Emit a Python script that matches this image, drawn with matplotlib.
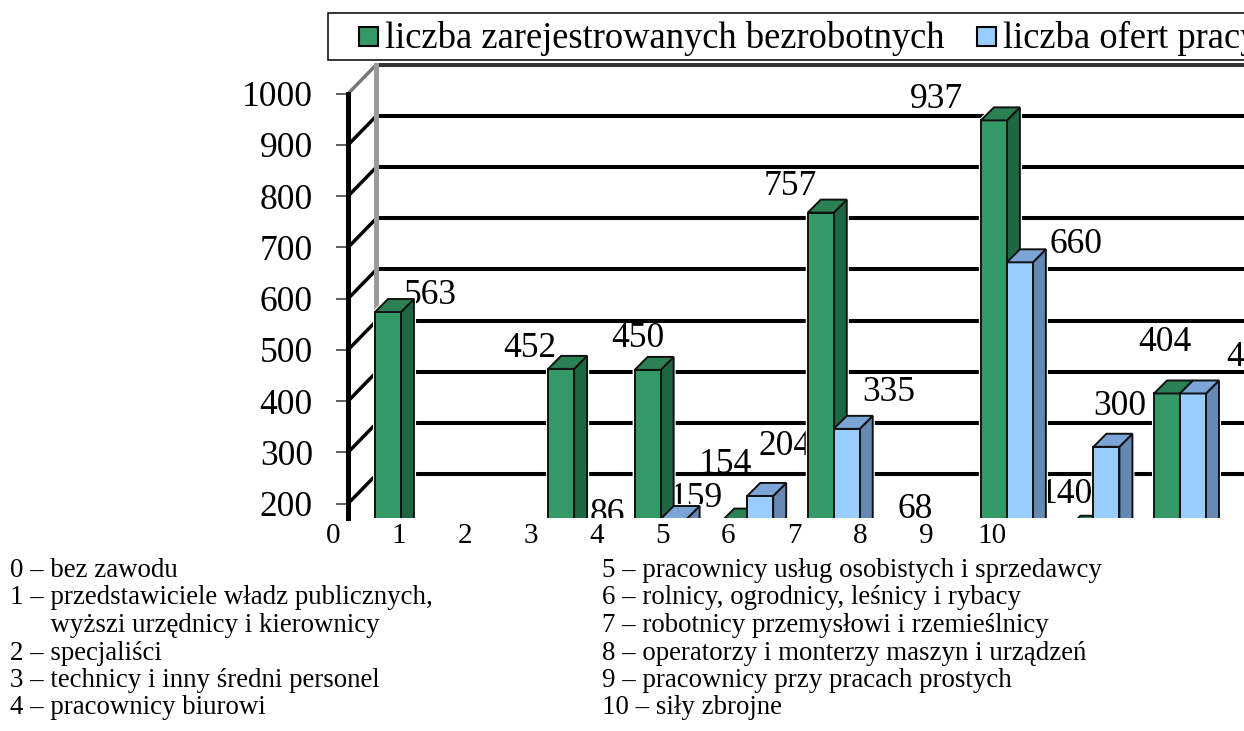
import numpy as np
import matplotlib.pyplot as plt
from matplotlib.patches import Polygon, Rectangle

plt.rcParams['font.family'] = ['Liberation Serif', 'DejaVu Serif']

# Dane (grupy zawodow 0-9, grupa 10 poza kadrem)
bezrobotni = [563, np.nan, 452, 450, 154, 757, 68, 937, 140, 404]
oferty = [np.nan, np.nan, 86, 159, 204, 335, np.nan, 660, 300, 404]
wartosci_osi_y = [200, 300, 400, 500, 600, 700, 800, 900, 1000]
etykiety_osi_x = ['0', '1', '2', '3', '4', '5', '6', '7', '8', '9', '10']
seria_1 = 'liczba zarejestrowanych bezrobotnych'
seria_2 = 'liczba ofert pracy'
opisy_lewe = ['0 – bez zawodu',
              '1 – przedstawiciele władz publicznych,',
              '      wyższi urzędnicy i kierownicy',
              '2 – specjaliści',
              '3 – technicy i inny średni personel',
              '4 – pracownicy biurowi']
opisy_prawe = ['5 – pracownicy usług osobistych i sprzedawcy',
               '6 – rolnicy, ogrodnicy, leśnicy i rybacy',
               '7 – robotnicy przemysłowi i rzemieślnicy',
               '8 – operatorzy i monterzy maszyn i urządzeń',
               '9 – pracownicy przy pracach prostych',
               '10 – siły zbrojne']

# Przesuniecia etykiet wartosci (piksele), jak w oryginale z Excela
off_bezr = [(42, 21), None, (-31, 25), (-10, 36), (-9, 62), (-31, 31),
            (8, 61), (-57, 25), (-14, 39), (-2, 55)]
off_ofert = [None, None, (20, 46), (23, 25), (25, 54), (42, 41),
             None, (56, 22), (13, 45), (60, 40)]

W, H = 1244, 731
fig = plt.figure(figsize=(W / 100, H / 100), dpi=100)


def fx(x):
    return x / W


def fy(y):
    return 1 - y / H


# Glowny obszar wykresu
ax = fig.add_axes([fx(348), fy(518), (1260 - 348) / W, (518 - 63) / H])
ax.set_xlim(-0.612, 9.924)
ax.set_ylim(161, 1049)
ax.patch.set_alpha(0)

szer = 0.30     # szerokosc slupka
gl_x = 0.150    # glebokosc 3D w poziomie
gl_y = 25.4     # glebokosc 3D w pionie
x_sciany = -0.283

kol_ziel = ('#339966', '#1f6642', '#2b8054')
kol_nieb = ('#99ccff', '#6689b3', '#7aa5d6')

# Linie siatki na tylnej scianie
for v in wartosci_osi_y:
    kol = '#333333' if v == 1000 else 'black'
    ax.plot([x_sciany, 9.924], [v + 46, v + 46], color=kol, lw=2.9, zorder=1.5,
            solid_capstyle='butt')
    # ukosne linie glebi od osi do sciany
    ax.plot([-0.612, x_sciany], [v - 11, v + 46],
            color='#777777' if v == 1000 else 'black', lw=2.5, zorder=1.6)
ax.plot([x_sciany, x_sciany], [0, 1000 + 46], color='#9a9a9a', lw=3.6, zorder=1.7)


def slupek(x0, v, kolory):
    x1 = x0 + szer
    obrys = [(x0, 0), (x0, v), (x0 + gl_x, v + gl_y), (x1 + gl_x, v + gl_y), (x1 + gl_x, 0)]
    ax.add_patch(Polygon(obrys, closed=True, fc='none', ec='white', lw=3, zorder=2))
    bok = [(x1, 0), (x1 + gl_x, gl_y), (x1 + gl_x, v + gl_y), (x1, v)]
    przod = [(x0, 0), (x1, 0), (x1, v), (x0, v)]
    gora = [(x0, v), (x1, v), (x1 + gl_x, v + gl_y), (x0 + gl_x, v + gl_y)]
    for pts, fc in zip([bok, przod, gora], [kolory[1], kolory[0], kolory[2]]):
        ax.add_patch(Polygon(pts, closed=True, fc=fc, ec='#111111', lw=1.4,
                             zorder=3, joinstyle='miter'))


def etykieta(x, v, off):
    t = ax.annotate(f'{v:.0f}', xy=(x, v), xytext=(off[0], off[1] - 13),
                    textcoords='offset pixels', ha='center', va='baseline',
                    fontsize=25.5, zorder=1, annotation_clip=False)
    t.set_clip_on(True)
    t.set_clip_box(ax.bbox)


for k in range(len(bezrobotni)):
    if not np.isnan(bezrobotni[k]):
        slupek(k - szer, bezrobotni[k], kol_ziel)
        etykieta(k - szer / 2, bezrobotni[k], off_bezr[k])
    if not np.isnan(oferty[k]):
        slupek(k, oferty[k], kol_nieb)
        etykieta(k + szer / 2, oferty[k], off_ofert[k])

# Os Y
ax.set_yticks([v - 11 for v in wartosci_osi_y])
ax.set_yticklabels([str(v) for v in wartosci_osi_y], fontsize=25.5)
ax.tick_params(axis='y', length=8.6, width=1.1, pad=16.6, color='#333333')
ax.set_xticks([])
for s in ['top', 'right', 'bottom']:
    ax.spines[s].set_visible(False)
ax.spines['left'].set_linewidth(3.6)
ax.spines['left'].set_bounds(161, 989)

# Etykiety osi X (przesuniete wzgledem slupkow jak w oryginale)
ax2 = fig.add_axes([fx(333), fy(518), (992 - 333) / W, 0.001])
ax2.set_xlim(0, 10)
ax2.set_xticks(range(11))
ax2.set_xticklabels(etykiety_osi_x, fontsize=21)
ax2.tick_params(axis='x', length=0, pad=3.6)
ax2.set_yticks([])
ax2.patch.set_alpha(0)
for s in ax2.spines.values():
    s.set_visible(False)

# Legenda
fig.add_artist(Rectangle((fx(328), fy(60)), (1300 - 328) / W, (60 - 12.7) / H,
                         transform=fig.transFigure, fc='white', ec='black', lw=1.1))
fig.add_artist(Rectangle((fx(359), fy(46)), 19 / W, 19 / H, transform=fig.transFigure,
                         fc=kol_ziel[0], ec='black', lw=1.5))
fig.add_artist(Rectangle((fx(977), fy(46)), 19 / W, 19 / H, transform=fig.transFigure,
                         fc=kol_nieb[0], ec='black', lw=1.5))
fig.text(fx(385), fy(48), seria_1, fontsize=26.3, va='baseline')
fig.text(fx(1003), fy(48), seria_2, fontsize=26.3, va='baseline')

# Opis grup zawodow
for i, txt in enumerate(opisy_lewe):
    fig.text(fx(10), fy(577 + 27.5 * i), txt, fontsize=19.4, va='baseline')
for i, txt in enumerate(opisy_prawe):
    fig.text(fx(602), fy(577 + 27.5 * i), txt, fontsize=19.4, va='baseline')

fig.savefig('out.png', dpi=100)
